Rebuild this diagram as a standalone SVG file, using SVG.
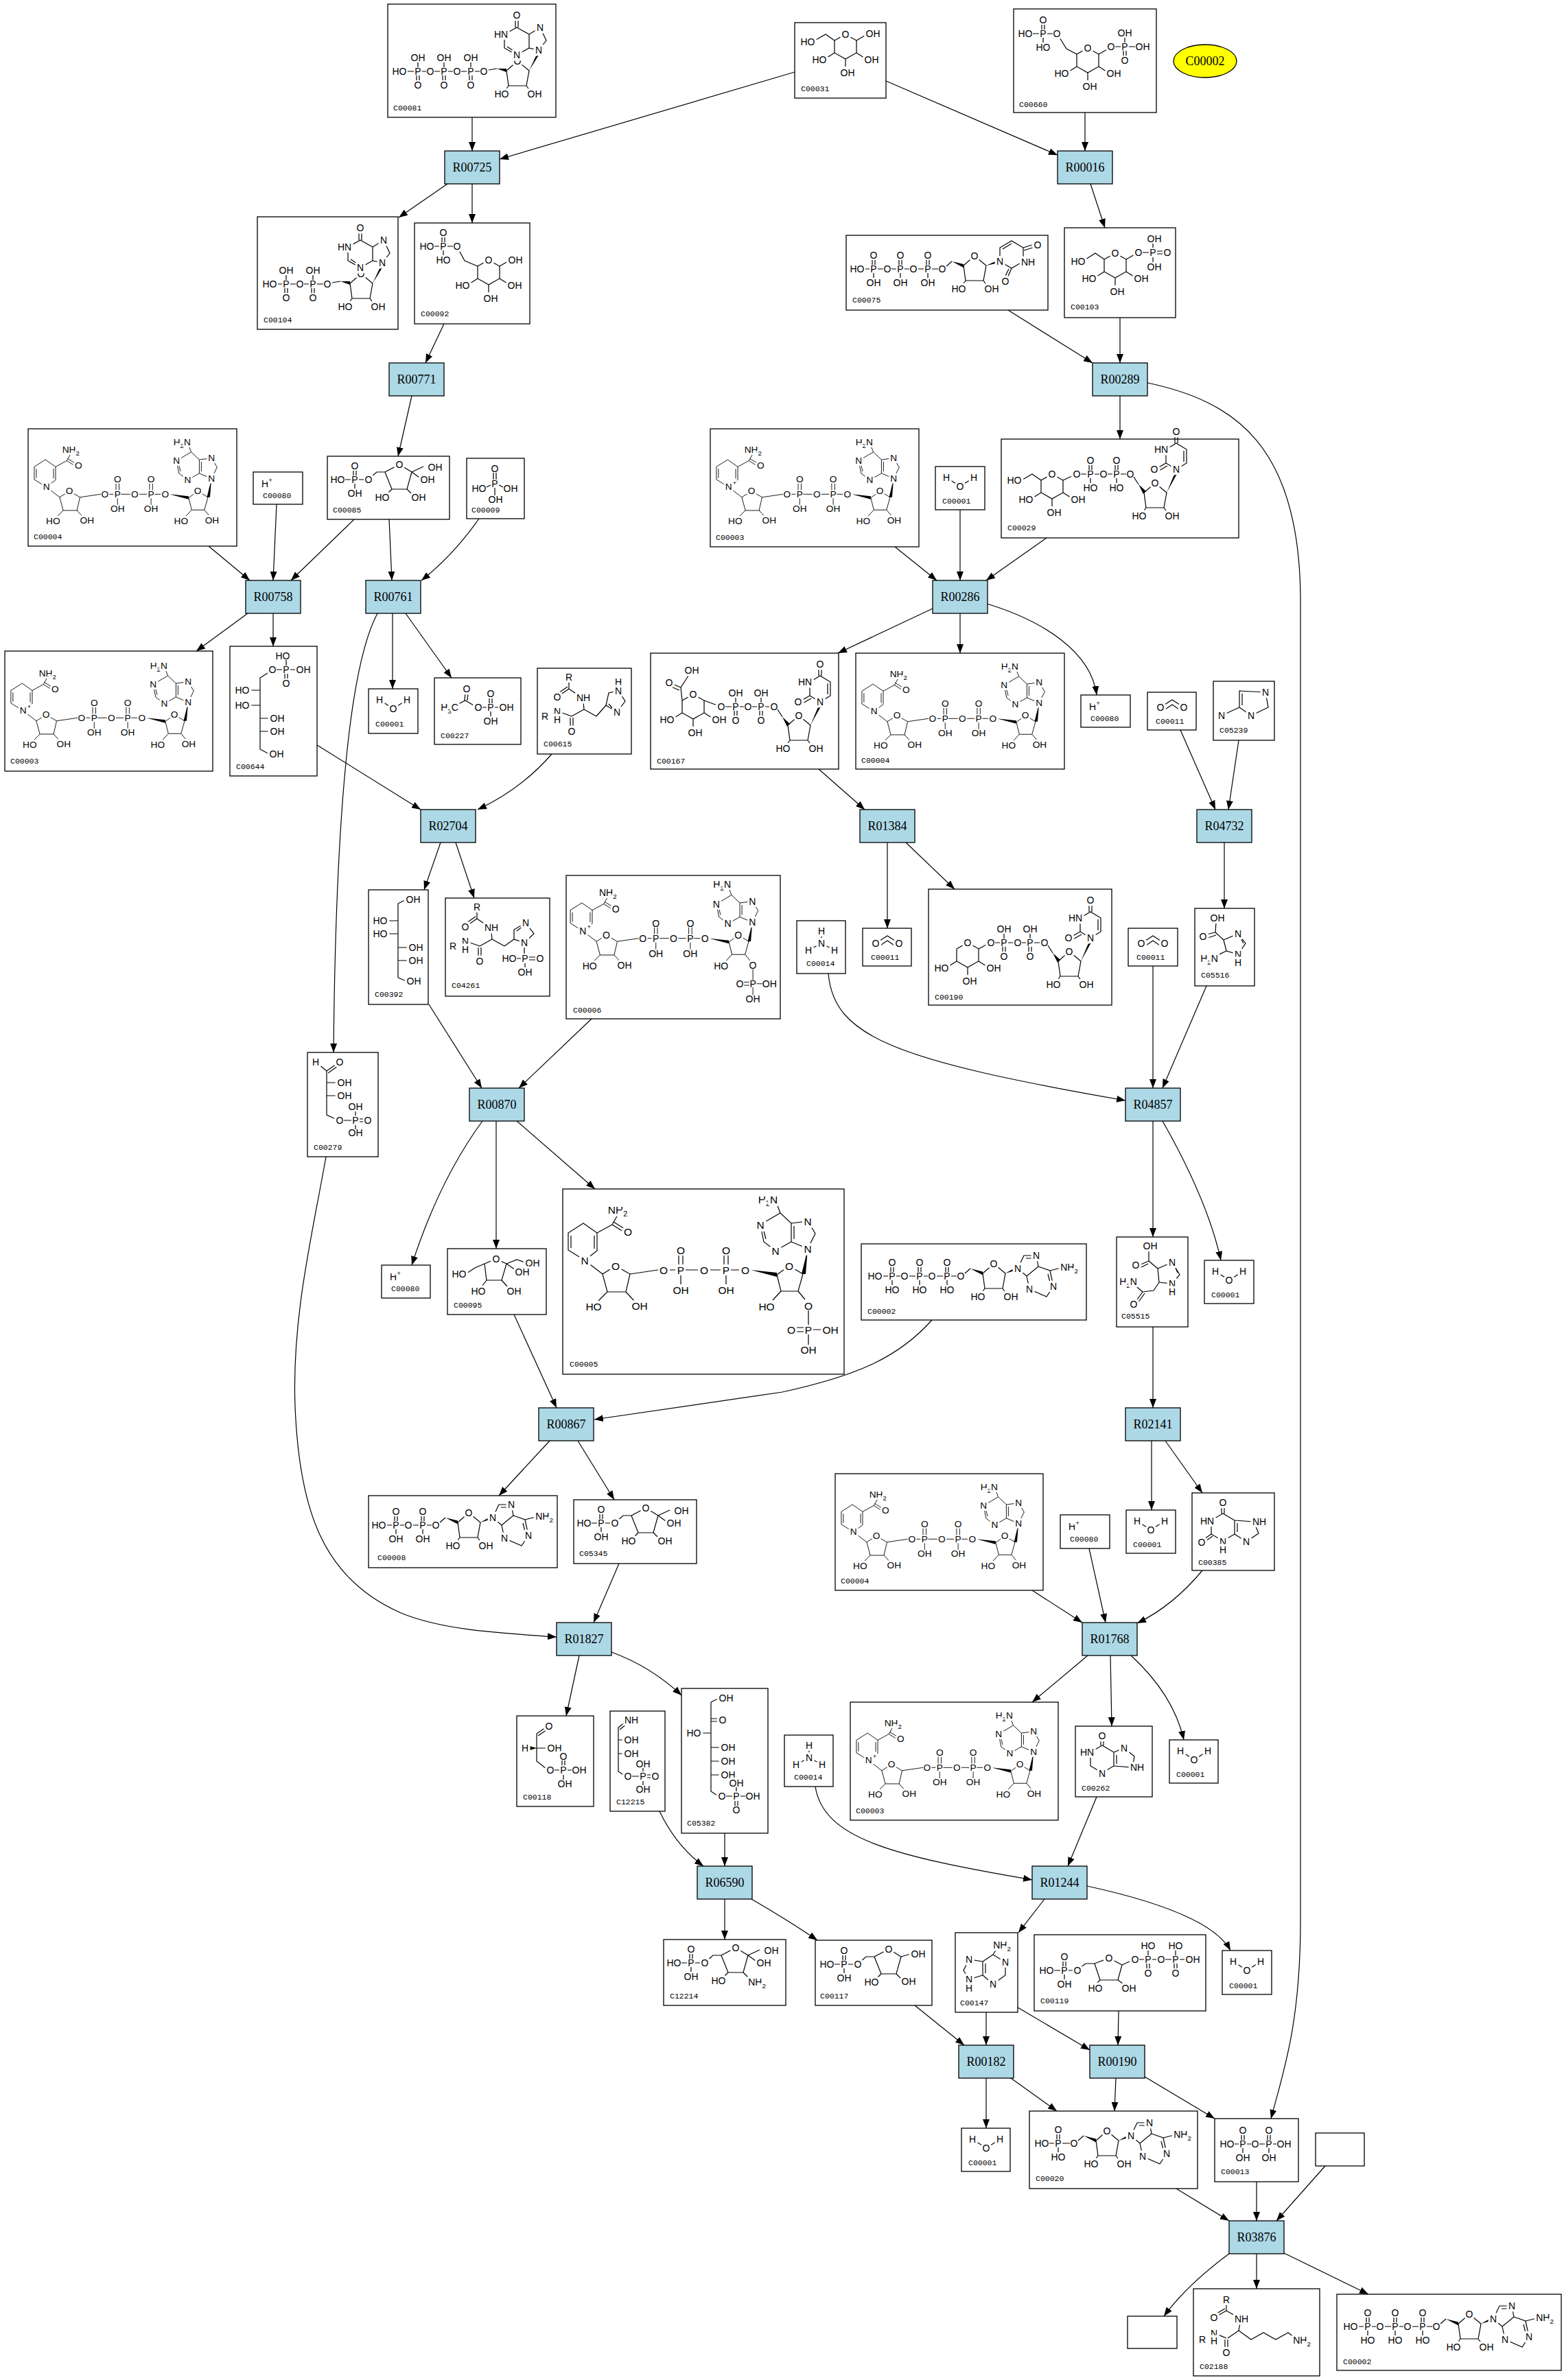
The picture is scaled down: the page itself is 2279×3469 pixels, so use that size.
<svg xmlns="http://www.w3.org/2000/svg" width="2279" height="3469" viewBox="0 0 2279 3469">
<style>
.box{fill:#fff;stroke:#000;stroke-width:1.3}
.rx{fill:#add8e6;stroke:#000;stroke-width:1.3}
.rl{font-family:"Liberation Serif","Times New Roman",serif;font-size:18px;text-anchor:middle;dominant-baseline:central;fill:#000}
.id{font-family:"Liberation Mono","DejaVu Sans Mono",monospace;font-size:11.5px;fill:#000}
.s{font-size:14px;stroke-width:7px}
.t{font-family:"Liberation Sans",Arial,sans-serif;text-anchor:middle;dominant-baseline:central;fill:#000;stroke:#fff;paint-order:stroke;stroke-linejoin:round}
.b{fill:none;stroke:#000;stroke-width:1.2}
.w{fill:#000;stroke:none}
.e{fill:none;stroke:#000;stroke-width:1.2;marker-end:url(#ah)}
.sb{font-size:70%;baseline-shift:sub}
.sp{font-size:70%;baseline-shift:super}
</style>
<defs>
<marker id="ah" markerUnits="userSpaceOnUse" markerWidth="14" markerHeight="10" refX="13" refY="5" orient="auto" viewBox="0 0 14 10"><path d="M0,0L13,5L0,10Z" fill="#000"/></marker>
<g id="pu"><text class="t">P</text><text class="t" y="-20">O</text><text class="t" y="20">OH</text><path class="b" d="M-2,-6V-13M2,-6V-13M0,6V13"/></g>
<g id="ph"><text class="t">P</text><text class="t" y="-20">O</text><text class="t" y="20">HO</text><path class="b" d="M-2,-6V-13M2,-6V-13M0,6V13"/></g>
<g id="pd"><text class="t">P</text><text class="t" y="-20">OH</text><text class="t" y="20">O</text><path class="b" d="M0,-6V-13M-2,6V13M2,6V13"/></g>
<g id="pdh"><text class="t">P</text><text class="t" y="-20">HO</text><text class="t" y="20">O</text><path class="b" d="M0,-6V-13M-2,6V13M2,6V13"/></g>
<g id="rib"><path class="b" d="M0,-19L17,-5L13,17L-13,17L-16,-5Z M-13,17L-18,24 M13,17L18,24"/><text class="t" y="-19">O</text><text class="t" x="-23" y="29">HO</text><text class="t" x="25" y="29">OH</text></g>
<g id="nuc"><path class="b" d="M6,-4L14,-11"/><path class="w" d="M14,-11L32,-1.5L32,-6.5Z"/><use href="#rib" x="48" y="1"/><path class="w" d="M65,-4L82,-9L81,-13Z"/><path class="b" d="M83,-11L92,-30L110,-30L113,-14L96,0Z M113,-14L130,-8L135,15L125,30L100,19L96,0 M130,-8L146,-12 M95,-26L107,-26 M127,-3L131,13"/><text class="t" x="83" y="-11">N</text><text class="t" x="110" y="-30">N</text><text class="t" x="135" y="15">N</text><text class="t" x="100" y="19">N</text><text class="t" x="158" y="-13">NH<tspan class="sb">2</tspan></text></g>
<g id="inuc"><path class="b" d="M7,-2L19,-4"/><path class="w" d="M19,-4L33,1L33,-4Z"/><use href="#rib" x="49" y="4"/><path class="w" d="M66,-1L79,-29L82,-27Z"/><path class="b" d="M80,-31L91,-45L82,-64L66,-54L66,-34Z M66,-54L48,-64L30,-54L30,-34L48,-24L66,-34 M46,-64V-76M50,-64V-76 M34,-36L46,-28"/><text class="t" x="80" y="-31">N</text><text class="t" x="82" y="-64">N</text><text class="t" x="25" y="-54">HN</text><text class="t" x="48" y="-24">N</text><text class="t" x="48" y="-82">O</text></g>
<g id="unuc"><path class="b" d="M6,-4L14,-11"/><path class="w" d="M14,-11L31,-2L31,-7Z"/><use href="#rib" x="47" y="0"/><path class="w" d="M64,-5L83,-9L82,-13Z"/><path class="b" d="M84,-11L84,-31L101,-41L118,-31L118,-11L101,-1Z M88,-29L101,-37 M118,-31L134,-36 M119,-27L135,-32 M101,-1L95,13 M97,0L91,12"/><text class="t" x="84" y="-11">N</text><text class="t" x="139" y="-35">O</text><text class="t" x="125" y="-10">NH</text><text class="t" x="92" y="18">O</text></g>
<g id="unuc2"><path class="b" d="M5,4L12,15"/><path class="w" d="M12,15L19,29L23,25Z"/><use href="#rib" x="36" y="32"/><path class="w" d="M53,27L66,-4L69,-2Z"/><path class="b" d="M67,-7L52,-16L52,-36L67,-45L82,-36L82,-16Z M52,-16L38,-8 M54,-12L40,-4 M65,-45V-56 M69,-45V-56 M78,-34V-18"/><text class="t" x="67" y="-7">N</text><text class="t" x="35" y="-7">O</text><text class="t" x="45" y="-36">HN</text><text class="t" x="67" y="-62">O</text></g>
<g id="pyr"><path class="b" d="M-16,-9L0,-18L16,-9L16,9L0,18L-16,9Z M-16,9L-27,16 M0,18V29 M16,9L27,16"/><text class="t" y="-18">O</text><text class="t" x="-38" y="19">HO</text><text class="t" x="3" y="38">OH</text><text class="t" x="38" y="19">OH</text></g>
<g id="fcore"><path class="b" d="M64,30L72,23H84 M84,23L105,12L123,23L116,48L94,48Z M94,48L86,56"/><text class="t" x="15" y="34">HO</text><text class="t" x="60" y="34">O</text><text class="t" x="105" y="12">O</text><text class="t" x="80" y="60">HO</text><use href="#pu" x="40" y="34"/><path class="b" d="M26,34H34M46,34H53"/></g>
<g id="pep"><path class="b" d="M46,19V30 M46,30L33,39 M44,27L31,36 M46,30L59,39 M67,49L68,60 M68,60L50,70 M50,70L36,65 M48,72V85 M52,72V85 M68,60L86,70"/><text class="t" x="46" y="13">R</text><text class="t" x="29" y="42">O</text><text class="t" x="67" y="43">NH</text><text class="t" x="11" y="70">R</text><text class="t" x="29" y="63">N</text><text class="t" x="29" y="75">H</text><text class="t" x="50" y="92">O</text></g>
<g id="nad"><path class="b" d="M30,50L8,64L8,89L32,104L50,90L50,64Z M12,68V86 M46,68V87 M50,64L72,52 M72,52L80,38 M72,52L88,62 M74,48L90,58 M32,104L58,124 M58,124L77,112L98,124L92,150L65,150Z M65,150L52,163 M92,150L104,163 M312,125L330,112L350,124L343,149L318,149Z M318,149L306,162 M343,149L353,161 M317,35L288,52L293,77L310,90L333,77L333,50Z M333,50L357,47L368,65L357,87L333,77 M317,35L312,22 M337,54V73 M292,57L296,73"/><path class="w" d="M274,118L312,122L312,128Z M357,87L348,124L354,124Z"/><text class="t" x="80" y="30">NH<tspan class="sb">2</tspan></text><text class="t" x="95" y="62">O</text><text class="t" x="32" y="104">N</text><text class="t" x="77" y="112">O</text><text class="t" x="45" y="171">HO</text><text class="t" x="112" y="170">OH</text><text class="t" x="147" y="118">O</text><text class="t" x="172" y="118">P</text><text class="t" x="206" y="118">O</text><text class="t" x="238" y="118">P</text><text class="t" x="266" y="118">O</text><text class="t" x="172" y="89">O</text><text class="t" x="238" y="89">O</text><text class="t" x="172" y="147">OH</text><text class="t" x="238" y="147">OH</text><text class="t" x="330" y="112">O</text><text class="t" x="297" y="171">HO</text><text class="t" x="299" y="15">H<tspan class="sb">2</tspan>N</text><text class="t" x="288" y="52">N</text><text class="t" x="310" y="90">N</text><text class="t" x="357" y="47">N</text><text class="t" x="357" y="87">N</text><path class="b" d="M98,124L139,118 M156,118H164 M179,118H197 M215,118H230 M245,118H257 M169,97V110M175,97V110M172,126V139 M235,97V110M241,97V110M238,126V139"/></g>
<g id="oh2"><text class="t" x="358" y="170">OH</text></g>
<g id="p2"><text class="t" x="358" y="170">O</text><text class="t" x="333" y="205">O</text><text class="t" x="358" y="205">P</text><text class="t" x="390" y="205">OH</text><text class="t" x="358" y="234">OH</text><path class="b" d="M358,177V198M341,202H351M341,208H351M365,205H376M358,212V227"/></g>
<g id="h2o"><path class="b" d="M16,16L36,29L56,16"/><text class="t" x="16" y="16">H</text><text class="t" x="36" y="29">O</text><text class="t" x="56" y="16">H</text></g>
<g id="hp"><text class="t" x="20" y="17">H<tspan class="sp">+</tspan></text></g>
<g id="co2"><path class="b" d="M19,22L36,11L53,22 M23,27L36,18L49,27"/><text class="t" x="19" y="22">O</text><text class="t" x="53" y="22">O</text></g>
<g id="nh3"><path class="b" d="M36,15V33 M36,33L17,43 M36,33L55,43"/><text class="t" x="36" y="15">H</text><text class="t" x="36" y="33">N</text><text class="t" x="17" y="43">H</text><text class="t" x="55" y="43">H</text></g>
</defs>
<rect width="2279" height="3469" fill="#fff"/>
<g id="connectors">
<path class="e" d="M688,171L688,220"/>
<path class="e" d="M1158,105L728,232"/>
<path class="e" d="M1291,118L1541,226"/>
<path class="e" d="M1581,164L1581,220"/>
<path class="e" d="M652,268L581,317"/>
<path class="e" d="M688,268L688,325"/>
<path class="e" d="M647,472L620,529"/>
<path class="e" d="M1589,268L1610,332"/>
<path class="e" d="M1469,452L1592,529"/>
<path class="e" d="M1632,463L1632,529"/>
<path class="e" d="M1632,577L1632,640"/>
<path class="e" d="M1672,558C1800,585 1893,650 1895,870L1895,2800C1895,2950 1870,3020 1852,3088"/>
<path class="e" d="M600,577L580,665"/>
<path class="e" d="M304,796L364,846"/>
<path class="e" d="M403,735L398,846"/>
<path class="e" d="M516,757L424,846"/>
<path class="e" d="M567,757L571,846"/>
<path class="e" d="M698,756Q660,810 614,846"/>
<path class="e" d="M1304,797L1365,846"/>
<path class="e" d="M1399,743L1399,846"/>
<path class="e" d="M1525,784L1437,846"/>
<path class="e" d="M361,894L286,949"/>
<path class="e" d="M398,894L398,942"/>
<path class="e" d="M572,894L572,1004"/>
<path class="e" d="M591,894L658,988"/>
<path class="e" d="M550,894C520,950 490,1100 486,1534"/>
<path class="e" d="M462,1086L613,1180"/>
<path class="e" d="M804,1099Q760,1150 696,1180"/>
<path class="e" d="M1359,887L1221,952"/>
<path class="e" d="M1399,894L1399,952"/>
<path class="e" d="M1438,880C1520,905 1590,950 1598,1013"/>
<path class="e" d="M1193,1121L1260,1180"/>
<path class="e" d="M1720,1064L1771,1180"/>
<path class="e" d="M1805,1079L1790,1180"/>
<path class="e" d="M642,1228L618,1297"/>
<path class="e" d="M664,1228L691,1309"/>
<path class="e" d="M625,1464L702,1586"/>
<path class="e" d="M862,1485L756,1586"/>
<path class="e" d="M1293,1228L1293,1353"/>
<path class="e" d="M1320,1228L1391,1296"/>
<path class="e" d="M1784,1228L1784,1324"/>
<path class="e" d="M1207,1419C1215,1510 1300,1545 1640,1604"/>
<path class="e" d="M1680,1408L1680,1586"/>
<path class="e" d="M1758,1437L1694,1586"/>
<path class="e" d="M703,1634Q640,1720 600,1844"/>
<path class="e" d="M723,1634L723,1820"/>
<path class="e" d="M753,1634L867,1733"/>
<path class="e" d="M1680,1634L1680,1803"/>
<path class="e" d="M1694,1634Q1760,1750 1779,1837"/>
<path class="e" d="M749,1916L811,2052"/>
<path class="e" d="M1358,1924C1310,1978 1250,2005 1140,2029L866,2069"/>
<path class="e" d="M1680,1934L1680,2052"/>
<path class="e" d="M801,2100L727,2180"/>
<path class="e" d="M842,2100L895,2186"/>
<path class="e" d="M902,2279L865,2365"/>
<path class="e" d="M475,1686C455,1800 425,1920 430,2050C436,2200 470,2300 582,2350C640,2375 720,2380 811,2386"/>
<path class="e" d="M1678,2100L1678,2201"/>
<path class="e" d="M1698,2100L1752,2176"/>
<path class="e" d="M1504,2318L1577,2365"/>
<path class="e" d="M1587,2257L1611,2365"/>
<path class="e" d="M1752,2289Q1710,2340 1657,2366"/>
<path class="e" d="M1585,2413L1504,2481"/>
<path class="e" d="M1618,2413L1620,2516"/>
<path class="e" d="M1648,2413Q1710,2470 1725,2536"/>
<path class="e" d="M844,2413L825,2501"/>
<path class="e" d="M891,2408Q950,2430 993,2471"/>
<path class="e" d="M961,2640Q985,2690 1025,2720"/>
<path class="e" d="M1056,2672L1056,2720"/>
<path class="e" d="M1056,2768L1056,2827"/>
<path class="e" d="M1095,2768Q1150,2800 1191,2828"/>
<path class="e" d="M1188,2604C1200,2680 1300,2705 1504,2740"/>
<path class="e" d="M1598,2619L1556,2720"/>
<path class="e" d="M1522,2768L1484,2817"/>
<path class="e" d="M1584,2749C1680,2770 1770,2800 1793,2843"/>
<path class="e" d="M1333,2923L1405,2981"/>
<path class="e" d="M1437,2933L1437,2981"/>
<path class="e" d="M1483,2926L1588,2988"/>
<path class="e" d="M1630,2931L1629,2981"/>
<path class="e" d="M1437,3029L1437,3102"/>
<path class="e" d="M1473,3029L1540,3077"/>
<path class="e" d="M1626,3029L1624,3077"/>
<path class="e" d="M1668,3027L1770,3088"/>
<path class="e" d="M1714,3190L1791,3237"/>
<path class="e" d="M1831,3180L1831,3237"/>
<path class="e" d="M1931,3157L1860,3237"/>
<path class="e" d="M1791,3285Q1730,3330 1696,3376"/>
<path class="e" d="M1831,3285L1831,3336"/>
<path class="e" d="M1871,3284L1994,3344"/>
</g>
<g id="reactions">
<g id="R00725"><rect class="rx" x="648" y="220" width="80" height="48"/><text class="rl" x="688" y="244">R00725</text></g>
<g id="R00016"><rect class="rx" x="1541" y="220" width="80" height="48"/><text class="rl" x="1581" y="244">R00016</text></g>
<g id="R00771"><rect class="rx" x="567" y="529" width="80" height="48"/><text class="rl" x="607" y="553">R00771</text></g>
<g id="R00289"><rect class="rx" x="1592" y="529" width="80" height="48"/><text class="rl" x="1632" y="553">R00289</text></g>
<g id="R00758"><rect class="rx" x="358" y="846" width="80" height="48"/><text class="rl" x="398" y="870">R00758</text></g>
<g id="R00761"><rect class="rx" x="533" y="846" width="80" height="48"/><text class="rl" x="573" y="870">R00761</text></g>
<g id="R00286"><rect class="rx" x="1359" y="846" width="80" height="48"/><text class="rl" x="1399" y="870">R00286</text></g>
<g id="R02704"><rect class="rx" x="613" y="1180" width="80" height="48"/><text class="rl" x="653" y="1204">R02704</text></g>
<g id="R01384"><rect class="rx" x="1253" y="1180" width="80" height="48"/><text class="rl" x="1293" y="1204">R01384</text></g>
<g id="R04732"><rect class="rx" x="1744" y="1180" width="80" height="48"/><text class="rl" x="1784" y="1204">R04732</text></g>
<g id="R00870"><rect class="rx" x="684" y="1586" width="80" height="48"/><text class="rl" x="724" y="1610">R00870</text></g>
<g id="R04857"><rect class="rx" x="1640" y="1586" width="80" height="48"/><text class="rl" x="1680" y="1610">R04857</text></g>
<g id="R00867"><rect class="rx" x="785" y="2052" width="80" height="48"/><text class="rl" x="825" y="2076">R00867</text></g>
<g id="R02141"><rect class="rx" x="1640" y="2052" width="80" height="48"/><text class="rl" x="1680" y="2076">R02141</text></g>
<g id="R01827"><rect class="rx" x="811" y="2365" width="80" height="48"/><text class="rl" x="851" y="2389">R01827</text></g>
<g id="R01768"><rect class="rx" x="1577" y="2365" width="80" height="48"/><text class="rl" x="1617" y="2389">R01768</text></g>
<g id="R06590"><rect class="rx" x="1016" y="2720" width="80" height="48"/><text class="rl" x="1056" y="2744">R06590</text></g>
<g id="R01244"><rect class="rx" x="1504" y="2720" width="80" height="48"/><text class="rl" x="1544" y="2744">R01244</text></g>
<g id="R00182"><rect class="rx" x="1397" y="2981" width="80" height="48"/><text class="rl" x="1437" y="3005">R00182</text></g>
<g id="R00190"><rect class="rx" x="1588" y="2981" width="80" height="48"/><text class="rl" x="1628" y="3005">R00190</text></g>
<g id="R03876"><rect class="rx" x="1791" y="3237" width="80" height="48"/><text class="rl" x="1831" y="3261">R03876</text></g>
</g>
<g id="compounds">
<g id="C00002"><ellipse cx="1756" cy="89" rx="46" ry="24" fill="#ffff00" stroke="#000" stroke-width="1.3"/><text class="rl" x="1756" y="89">C00002</text></g>

<g id="C00081" class="s" transform="translate(565,6)"><rect class="box" width="245" height="165"/><text class="t" x="17" y="98">HO</text><text class="t" x="62" y="98">O</text><text class="t" x="101" y="98">O</text><text class="t" x="140" y="98">O</text><use href="#pd" x="44" y="98"/><use href="#pd" x="82" y="98"/><use href="#pd" x="121" y="98"/><use href="#inuc" x="140" y="98"/><path class="b" d="M29,98H38M50,98H56M68,98H76M88,98H95M107,98H115M127,98H134"/><text class="id" x="8" y="155">C00081</text></g>

<g id="C00031" class="s" transform="translate(1158,33)"><rect class="box" width="133" height="110"/><path class="b" d="M90,26L102,19 M58,26L45,17L31,25"/><use href="#pyr" x="74" y="35"/><text class="t" x="114" y="16">OH</text><text class="t" x="19" y="28">HO</text><text class="id" x="9" y="100">C00031</text></g>

<g id="C00660" class="s" transform="translate(1477,13)"><rect class="box" width="208" height="151"/><path class="b" d="M67,42L77,58L92,66 M124,66L138,58"/><use href="#pyr" x="108" y="75"/><text class="t" x="17" y="36">HO</text><text class="t" x="63" y="36">O</text><text class="t" x="142" y="55">O</text><text class="t" x="188" y="55">OH</text><use href="#ph" x="43" y="36"/><use href="#pd" x="162" y="55"/><path class="b" d="M28,36H37M49,36H57M148,55H156M168,55H177"/><text class="id" x="8" y="143">C00660</text></g>

<g id="C00104" class="s" transform="translate(375,316)"><rect class="box" width="205" height="164"/><text class="t" x="18" y="98">HO</text><text class="t" x="62" y="98">O</text><text class="t" x="102" y="98">O</text><use href="#pd" x="42" y="98"/><use href="#pd" x="81" y="98"/><use href="#inuc" x="102" y="98"/><path class="b" d="M30,98H36M48,98H56M68,98H75M87,98H96"/><text class="id" x="9" y="154">C00104</text></g>

<g id="C00092" class="s" transform="translate(604,325)"><rect class="box" width="168" height="147"/><path class="b" d="M65,40L73,55L92,63 M124,63L136,56"/><use href="#pyr" x="108" y="72"/><text class="t" x="18" y="34">HO</text><text class="t" x="62" y="34">O</text><text class="t" x="147" y="54">OH</text><use href="#ph" x="42" y="34"/><path class="b" d="M29,34H36M48,34H56"/><text class="id" x="9" y="136">C00092</text></g>

<g id="C00075" class="s" transform="translate(1233,343)"><rect class="box" width="294" height="109"/><text class="t" x="16" y="49">HO</text><text class="t" x="60" y="49">O</text><text class="t" x="98" y="49">O</text><text class="t" x="140" y="49">O</text><use href="#pu" x="40" y="49"/><use href="#pu" x="79" y="49"/><use href="#pu" x="119" y="49"/><use href="#unuc" x="140" y="49"/><path class="b" d="M28,49H34M46,49H54M66,49H73M85,49H92M105,49H113M125,49H134"/><text class="id" x="9" y="98">C00075</text></g>

<g id="C00103" class="s" transform="translate(1551,332)"><rect class="box" width="162" height="131"/><path class="b" d="M58,46L45,37L31,46 M90,46L104,38"/><use href="#pyr" x="74" y="55"/><text class="t" x="20" y="49">HO</text><text class="t" x="108" y="36">O</text><text class="t" x="129" y="36">P</text><text class="t" x="150" y="36">O</text><text class="t" x="131" y="16">OH</text><text class="t" x="131" y="57">OH</text><path class="b" d="M114,36H123M135,34H143M135,38H143M129,29V23M129,43V50"/><text class="id" x="9" y="119">C00103</text></g>

<g id="C00029" class="s" transform="translate(1459,640)"><rect class="box" width="346" height="144"/><path class="b" d="M58,60L45,51L31,59 M90,60L105,53"/><use href="#pyr" x="74" y="69"/><text class="t" x="19" y="60">HO</text><text class="t" x="110" y="51">O</text><text class="t" x="149" y="51">O</text><text class="t" x="188" y="51">O</text><use href="#ph" x="130" y="51"/><use href="#ph" x="168" y="51"/><use href="#unuc2" x="188" y="51"/><path class="b" d="M116,51H124M136,51H143M155,51H162M174,51H182"/><text class="id" x="9" y="133">C00029</text></g>

<g id="C00004_1" class="s" transform="translate(41,625)"><rect class="box" width="304" height="171"/><g transform="translate(3,8) scale(.74)" style="font-size:18.5px;stroke-width:8px"><use href="#nad"/><use href="#oh2"/></g><text class="id" x="8" y="161">C00004</text></g>

<g id="C00080_1" class="s" transform="translate(369,688)"><rect class="box" width="72" height="47"/><use href="#hp"/><text class="id" x="14" y="38">C00080</text></g>

<g id="C00085" class="s" transform="translate(477,665)"><rect class="box" width="178" height="92"/><path class="b" d="M123,23L140,15 M123,23L134,31 M116,48L124,56"/><use href="#fcore"/><text class="t" x="157" y="16">OH</text><text class="t" x="146" y="34">OH</text><text class="t" x="133" y="60">OH</text><text class="id" x="8" y="82">C00085</text></g>

<g id="C00009" class="s" transform="translate(680,668)"><rect class="box" width="84" height="88"/><text class="t" x="41" y="15">O</text><text class="t" x="41" y="37">P</text><text class="t" x="18" y="44">HO</text><text class="t" x="64" y="44">OH</text><text class="t" x="42" y="60">OH</text><path class="b" d="M39,21V31M43,21V31M35,39L29,42M47,39L53,42M41,43V54"/><text class="id" x="7" y="79">C00009</text></g>

<g id="C00003_1" class="s" transform="translate(1035,625)"><rect class="box" width="304" height="172"/><g transform="translate(3,8) scale(.74)" style="font-size:18.5px;stroke-width:8px"><use href="#nad"/><use href="#oh2"/><text class="t" x="44" y="95" style="font-size:13px">+</text></g><text class="id" x="8" y="162">C00003</text></g>

<g id="C00001_1" class="s" transform="translate(1363,680)"><rect class="box" width="72" height="63"/><use href="#h2o"/><text class="id" x="10" y="54">C00001</text></g>

<g id="C00003_2" class="s" transform="translate(7,949)"><rect class="box" width="303" height="175"/><g transform="translate(3,10) scale(.74)" style="font-size:18.5px;stroke-width:8px"><use href="#nad"/><use href="#oh2"/><text class="t" x="44" y="95" style="font-size:13px">+</text></g><text class="id" x="8" y="164">C00003</text></g>

<g id="C00644" class="s" transform="translate(335,942)"><rect class="box" width="127" height="189"/><path class="b" d="M58,37L44,46V150L57,157 M44,64H28 M44,86H28 M44,105H60 M44,124H60"/><text class="t" x="77" y="14">HO</text><text class="t" x="62" y="34">O</text><text class="t" x="82" y="34">P</text><text class="t" x="107" y="34">OH</text><text class="t" x="82" y="54">O</text><text class="t" x="18" y="64">HO</text><text class="t" x="18" y="86">HO</text><text class="t" x="69" y="105">OH</text><text class="t" x="69" y="124">OH</text><text class="t" x="68" y="157">OH</text><path class="b" d="M68,34H76M88,34H95M82,28V20M80,40V47M84,40V47"/><text class="id" x="9" y="179">C00644</text></g>

<g id="C00001_2" class="s" transform="translate(537,1004)"><rect class="box" width="72" height="65"/><use href="#h2o"/><text class="id" x="10" y="55">C00001</text></g>

<g id="C00227" class="s" transform="translate(633,988)"><rect class="box" width="126" height="97"/><path class="b" d="M31,40L45,33L57,40 M44,33L45,22 M48,33L49,22"/><text class="t" x="22" y="43">H<tspan class="sb">3</tspan>C</text><text class="t" x="47" y="16">O</text><text class="t" x="64" y="43">O</text><text class="t" x="105" y="43">OH</text><use href="#pu" x="82" y="43"/><path class="b" d="M70,43H76M88,43H93"/><text class="id" x="9" y="88">C00227</text></g>

<g id="C00615" class="s" transform="translate(783,974)"><rect class="box" width="137" height="125"/><use href="#pep"/><path class="b" d="M86,70L100,54 M100,54L104,36L118,33L128,48L116,64Z M118,33V26 M104,52L113,62"/><text class="t" x="118" y="20">H</text><text class="t" x="118" y="33">N</text><text class="t" x="116" y="64">N</text><text class="id" x="9" y="114">C00615</text></g>

<g id="C00167" class="s" transform="translate(948,952)"><rect class="box" width="274" height="169"/><path class="b" d="M46,69L44,50 M44,50L32,45 M42,54L30,49 M44,50L55,33 M78,69L97,76"/><use href="#pyr" x="62" y="78"/><text class="t" x="27" y="43">O</text><text class="t" x="60" y="25">OH</text><text class="t" x="103" y="78">O</text><text class="t" x="142" y="78">O</text><text class="t" x="180" y="78">O</text><use href="#pd" x="124" y="78"/><use href="#pd" x="161" y="78"/><use href="#unuc2" x="180" y="78"/><path class="b" d="M109,78H118M130,78H136M148,78H155M167,78H173"/><text class="id" x="9" y="161">C00167</text></g>

<g id="C00004_2" class="s" transform="translate(1247,952)"><rect class="box" width="304" height="169"/><g transform="translate(3,8) scale(.74)" style="font-size:18.5px;stroke-width:8px"><use href="#nad"/><use href="#oh2"/></g><text class="id" x="8" y="160">C00004</text></g>

<g id="C00080_2" class="s" transform="translate(1575,1013)"><rect class="box" width="72" height="47"/><use href="#hp"/><text class="id" x="14" y="38">C00080</text></g>

<g id="C00011_1" class="s" transform="translate(1672,1009)"><rect class="box" width="71" height="55"/><use href="#co2"/><text class="id" x="12" y="46">C00011</text></g>

<g id="C05239" class="s" transform="translate(1768,993)"><rect class="box" width="89" height="86"/><path class="b" d="M38,14L76,16L80,38L55,50L38,38Z M38,38L12,50 M42,18V35"/><text class="t" x="76" y="16">N</text><text class="t" x="55" y="50">N</text><text class="t" x="12" y="50">N</text><text class="id" x="9" y="75">C05239</text></g>

<g id="C00392" class="s" transform="translate(537,1297)"><rect class="box" width="87" height="167"/><path class="b" d="M43,20V128 M43,20L55,14 M43,45H28 M43,64H28 M43,84H58 M43,103H58 M43,128L55,133"/><text class="t" x="65" y="14">OH</text><text class="t" x="17" y="45">HO</text><text class="t" x="17" y="64">HO</text><text class="t" x="69" y="84">OH</text><text class="t" x="69" y="103">OH</text><text class="t" x="66" y="133">OH</text><text class="id" x="9" y="156">C00392</text></g>

<g id="C04261" class="s" transform="translate(649,1309)"><rect class="box" width="152" height="143"/><use href="#pep"/><path class="b" d="M86,70L100,60 M100,60L100,46L117,36L129,52L115,65Z M104,48L114,40"/><text class="t" x="117" y="36">N</text><text class="t" x="115" y="65">N</text><text class="t" x="93" y="88">HO</text><text class="t" x="116" y="88">P</text><text class="t" x="138" y="88">O</text><text class="t" x="116" y="108">OH</text><path class="b" d="M115,72V81M104,88H110M122,86H131M122,90H131M116,95V101"/><text class="id" x="9" y="131">C04261</text></g>

<g id="C00006" class="s" transform="translate(825,1276)"><rect class="box" width="312" height="209"/><g transform="translate(0,2) scale(.76)" style="font-size:18.5px;stroke-width:8px"><use href="#nad"/><use href="#p2"/><text class="t" x="44" y="95" style="font-size:13px">+</text></g><text class="id" x="10" y="200">C00006</text></g>

<g id="C00014_1" class="s" transform="translate(1161,1342)"><rect class="box" width="71" height="77"/><use href="#nh3"/><text class="id" x="14" y="66">C00014</text></g>

<g id="C00011_2" class="s" transform="translate(1257,1353)"><rect class="box" width="71" height="55"/><use href="#co2"/><text class="id" x="12" y="46">C00011</text></g>

<g id="C00190" class="s" transform="translate(1353,1296)"><rect class="box" width="267" height="169"/><path class="b" d="M73,87L86,80"/><use href="#pyr" x="57" y="96"/><text class="t" x="91" y="78">O</text><text class="t" x="130" y="78">O</text><text class="t" x="169" y="78">O</text><use href="#pd" x="110" y="78"/><use href="#pd" x="148" y="78"/><use href="#unuc2" x="169" y="78"/><path class="b" d="M97,78H104M116,78H123M136,78H142M154,78H162"/><text class="id" x="9" y="161">C00190</text></g>

<g id="C00011_3" class="s" transform="translate(1644,1353)"><rect class="box" width="72" height="55"/><use href="#co2"/><text class="id" x="12" y="46">C00011</text></g>

<g id="C05516" class="s" transform="translate(1741,1324)"><rect class="box" width="87" height="113"/><path class="b" d="M30,35L31,20 M30,35L17,38 M31,39L19,43 M30,35L42,46 M42,46L63,37L74,51L63,67L46,62Z M46,62L30,70 M66,42L71,51"/><text class="t" x="33" y="14">OH</text><text class="t" x="12" y="41">O</text><text class="t" x="63" y="37">N</text><text class="t" x="63" y="67">N</text><text class="t" x="63" y="79">H</text><text class="t" x="21" y="73">H<tspan class="sb">2</tspan>N</text><text class="id" x="9" y="101">C05516</text></g>

<g id="C00279" class="s" transform="translate(448,1534)"><rect class="box" width="103" height="152"/><path class="b" d="M12,14L28,27 M28,27L42,17 M30,30L44,20 M28,27V91L41,97 M28,44H44 M28,63H44"/><text class="t" x="12" y="14">H</text><text class="t" x="47" y="14">O</text><text class="t" x="54" y="44">OH</text><text class="t" x="54" y="63">OH</text><text class="t" x="47" y="99">O</text><text class="t" x="70" y="99">P</text><text class="t" x="88" y="99">O</text><text class="t" x="70" y="79">OH</text><text class="t" x="70" y="117">OH</text><path class="b" d="M53,99H64M76,97H81M76,101H81M70,92V86M70,106V112"/><text class="id" x="9" y="142">C00279</text></g>

<g id="C00005" class="s" transform="translate(820,1733)"><rect class="box" width="410" height="270"/><g style="font-size:15.5px;stroke-width:8px"><use href="#nad"/><use href="#p2"/></g><text class="id" x="10" y="259">C00005</text></g>

<g id="C00080_3" class="s" transform="translate(556,1844)"><rect class="box" width="71" height="48"/><use href="#hp"/><text class="id" x="14" y="38">C00080</text></g>

<g id="C00095" class="s" transform="translate(652,1820)"><rect class="box" width="144" height="96"/><path class="b" d="M54,22L71,15L86,22L79,46L57,46Z M86,22L101,16L113,20 M86,22L99,31 M54,22L40,28L28,36 M57,46L50,55 M79,46L87,55"/><text class="t" x="71" y="15">O</text><text class="t" x="124" y="21">OH</text><text class="t" x="109" y="34">OH</text><text class="t" x="17" y="37">HO</text><text class="t" x="45" y="62">HO</text><text class="t" x="97" y="62">OH</text><text class="id" x="9" y="86">C00095</text></g>

<g id="C00002_1" class="s" transform="translate(1255,1813)"><rect class="box" width="328" height="111"/><text class="t" x="20" y="47">HO</text><text class="t" x="63" y="47">O</text><text class="t" x="103" y="47">O</text><text class="t" x="145" y="47">O</text><use href="#ph" x="45" y="47"/><use href="#ph" x="85" y="47"/><use href="#ph" x="125" y="47"/><use href="#nuc" x="145" y="47"/><path class="b" d="M32,47H39M51,47H57M70,47H79M91,47H97M110,47H119M131,47H139"/><text class="id" x="9" y="102">C00002</text></g>

<g id="C05515" class="s" transform="translate(1627,1803)"><rect class="box" width="104" height="131"/><path class="b" d="M47,35V20 M47,35L33,41 M46,39L34,45 M47,35L60,46 M60,46L81,37L92,55L81,68L62,66Z M62,66L54,78L38,80 M38,80L24,68 M38,80L28,94 M41,82L31,96 M84,41L89,52"/><text class="t" x="49" y="13">OH</text><text class="t" x="28" y="41">O</text><text class="t" x="81" y="37">N</text><text class="t" x="81" y="68">N</text><text class="t" x="81" y="80">H</text><text class="t" x="17" y="65">H<tspan class="sb">2</tspan>N</text><text class="t" x="25" y="98">O</text><text class="id" x="7" y="119">C05515</text></g>

<g id="C00001_3" class="s" transform="translate(1755,1837)"><rect class="box" width="72" height="63"/><use href="#h2o"/><text class="id" x="10" y="54">C00001</text></g>

<g id="C00008" class="s" transform="translate(537,2180)"><rect class="box" width="275" height="105"/><text class="t" x="15" y="43">HO</text><text class="t" x="58" y="43">O</text><text class="t" x="98" y="43">O</text><use href="#pu" x="40" y="43"/><use href="#pu" x="79" y="43"/><use href="#nuc" x="98" y="43"/><path class="b" d="M27,43H34M46,43H52M65,43H73M85,43H92"/><text class="id" x="13" y="94">C00008</text></g>

<g id="C05345" class="s" transform="translate(836,2186)"><rect class="box" width="179" height="93"/><path class="b" d="M123,23L140,15 M123,23L134,31 M116,48L124,56"/><use href="#fcore"/><text class="t" x="157" y="16">OH</text><text class="t" x="146" y="34">OH</text><text class="t" x="133" y="60">OH</text><text class="id" x="8" y="82">C05345</text></g>

<g id="C00004_3" class="s" transform="translate(1217,2148)"><rect class="box" width="303" height="170"/><g transform="translate(3,8) scale(.74)" style="font-size:18.5px;stroke-width:8px"><use href="#nad"/><use href="#oh2"/></g><text class="id" x="8" y="160">C00004</text></g>

<g id="C00080_4" class="s" transform="translate(1545,2208)"><rect class="box" width="72" height="49"/><use href="#hp"/><text class="id" x="14" y="39">C00080</text></g>

<g id="C00001_4" class="s" transform="translate(1641,2201)"><rect class="box" width="72" height="63"/><use href="#h2o"/><text class="id" x="10" y="54">C00001</text></g>

<g id="C00385" class="s" transform="translate(1737,2176)"><rect class="box" width="120" height="113"/><path class="b" d="M45,30L28,40L28,60L45,70L62,60L62,40Z M43,30V20M47,30V20 M28,60L18,67 M30,63L20,70 M62,40L90,42L97,59L79,71L62,60 M66,44V57"/><text class="t" x="45" y="14">O</text><text class="t" x="22" y="41">HN</text><text class="t" x="14" y="72">O</text><text class="t" x="45" y="71">N</text><text class="t" x="45" y="83">H</text><text class="t" x="98" y="42">NH</text><text class="t" x="79" y="71">N</text><text class="id" x="9" y="105">C00385</text></g>

<g id="C00118" class="s" transform="translate(753,2501)"><rect class="box" width="112" height="132"/><path class="b" d="M29,26L42,17 M31,29L44,20 M29,26V66L43,77 M29,47H46"/><path class="w" d="M29,47L19,44L19,50Z"/><text class="t" x="47" y="15">O</text><text class="t" x="12" y="47">H</text><text class="t" x="55" y="47">OH</text><text class="t" x="49" y="79">O</text><text class="t" x="68" y="79">P</text><text class="t" x="91" y="79">OH</text><text class="t" x="68" y="59">O</text><text class="t" x="70" y="99">OH</text><path class="b" d="M55,79H62M74,79H80M66,72V65M70,72V65M68,86V93"/><text class="id" x="9" y="122">C00118</text></g>

<g id="C12215" class="s" transform="translate(889,2494)"><rect class="box" width="80" height="146"/><path class="b" d="M12,24L22,16 M14,27L24,19 M12,24V88L21,94 M12,42H22 M12,62H22"/><text class="t" x="31" y="13">NH</text><text class="t" x="31" y="42">OH</text><text class="t" x="31" y="62">OH</text><text class="t" x="26" y="95">O</text><text class="t" x="48" y="95">P</text><text class="t" x="66" y="95">O</text><text class="t" x="48" y="77">OH</text><text class="t" x="48" y="114">OH</text><path class="b" d="M32,95H42M54,93H59M54,97H59M48,88V83M48,102V108"/><text class="id" x="9" y="136">C12215</text></g>

<g id="C05382" class="s" transform="translate(993,2461)"><rect class="box" width="126" height="211"/><path class="b" d="M43,20L55,14 M43,20V150L52,156 M43,44H53 M43,48H53 M43,65H28 M43,86H58 M43,106H58 M43,126H58"/><text class="t" x="65" y="14">OH</text><text class="t" x="60" y="46">O</text><text class="t" x="18" y="65">HO</text><text class="t" x="68" y="86">OH</text><text class="t" x="68" y="106">OH</text><text class="t" x="68" y="126">OH</text><text class="t" x="59" y="157">O</text><text class="t" x="80" y="157">P</text><text class="t" x="104" y="157">OH</text><text class="t" x="80" y="138">OH</text><text class="t" x="80" y="177">O</text><path class="b" d="M65,157H74M86,157H93M80,150V144M78,164V171M82,164V171"/><text class="id" x="8" y="200">C05382</text></g>

<g id="C00003_3" class="s" transform="translate(1239,2481)"><rect class="box" width="303" height="172"/><g transform="translate(3,8) scale(.74)" style="font-size:18.5px;stroke-width:8px"><use href="#nad"/><use href="#oh2"/><text class="t" x="44" y="95" style="font-size:13px">+</text></g><text class="id" x="8" y="162">C00003</text></g>

<g id="C00014_2" class="s" transform="translate(1143,2529)"><rect class="box" width="71" height="75"/><use href="#nh3"/><text class="id" x="14" y="65">C00014</text></g>

<g id="C00262" class="s" transform="translate(1567,2516)"><rect class="box" width="112" height="103"/><path class="b" d="M39,28L22,38L22,58L39,68L56,58L56,38Z M37,28V20M41,28V20 M56,38L71,32L86,44L83,60L56,58 M60,42V55"/><text class="t" x="39" y="14">O</text><text class="t" x="17" y="38">HN</text><text class="t" x="39" y="69">N</text><text class="t" x="71" y="32">N</text><text class="t" x="90" y="60">NH</text><text class="id" x="9" y="94">C00262</text></g>

<g id="C00001_5" class="s" transform="translate(1704,2536)"><rect class="box" width="71" height="63"/><use href="#h2o"/><text class="id" x="10" y="54">C00001</text></g>

<g id="C12214" class="s" transform="translate(967,2827)"><rect class="box" width="178" height="96"/><path class="b" d="M123,23L140,15 M123,23L134,31 M116,48L124,56"/><use href="#fcore"/><text class="t" x="157" y="16">OH</text><text class="t" x="146" y="34">OH</text><text class="t" x="136" y="62">NH<tspan class="sb">2</tspan></text><text class="id" x="9" y="86">C12214</text></g>

<g id="C00117" class="s" transform="translate(1188,2828)"><rect class="box" width="170" height="95"/><path class="b" d="M125,24L139,20 M118,49L126,57"/><use href="#fcore" x="2" y="1"/><text class="t" x="150" y="20">OH</text><text class="t" x="136" y="60">OH</text><text class="id" x="7" y="85">C00117</text></g>

<g id="C00147" class="s" transform="translate(1392,2817)"><rect class="box" width="91" height="116"/><path class="b" d="M55,32L73,43L73,62L55,75L40,62L40,42Z M40,42L20,39L12,55L20,68L40,62 M55,32L60,24 M44,45V59"/><text class="t" x="68" y="18">NH<tspan class="sb">2</tspan></text><text class="t" x="20" y="39">N</text><text class="t" x="73" y="43">N</text><text class="t" x="55" y="75">N</text><text class="t" x="20" y="68">N</text><text class="t" x="20" y="81">H</text><text class="id" x="7" y="106">C00147</text></g>

<g id="C00119" class="s" transform="translate(1507,2820)"><rect class="box" width="250" height="111"/><path class="b" d="M67,48L75,42H88 M88,42L109,34L128,44L122,66L96,66Z M96,66L90,72 M122,66L130,72 M128,44L141,38"/><text class="t" x="18" y="52">HO</text><text class="t" x="63" y="52">O</text><text class="t" x="109" y="34">O</text><text class="t" x="89" y="78">HO</text><text class="t" x="138" y="78">OH</text><text class="t" x="147" y="36">O</text><text class="t" x="185" y="36">O</text><text class="t" x="231" y="36">OH</text><use href="#pu" x="44" y="52"/><use href="#pdh" x="166" y="36"/><use href="#pdh" x="206" y="36"/><path class="b" d="M29,52H38M50,52H56M153,36H160M172,36H178M191,36H200M212,36H219"/><text class="id" x="9" y="100">C00119</text></g>

<g id="C00001_6" class="s" transform="translate(1781,2843)"><rect class="box" width="72" height="64"/><use href="#h2o"/><text class="id" x="10" y="55">C00001</text></g>

<g id="C00001_7" class="s" transform="translate(1401,3102)"><rect class="box" width="71" height="63"/><use href="#h2o"/><text class="id" x="10" y="54">C00001</text></g>

<g id="C00020" class="s" transform="translate(1500,3077)"><rect class="box" width="245" height="113"/><text class="t" x="18" y="47">HO</text><text class="t" x="65" y="47">O</text><use href="#ph" x="42" y="47"/><use href="#nuc" x="65" y="47"/><path class="b" d="M29,47H36M48,47H59"/><text class="id" x="9" y="102">C00020</text></g>

<g id="C00013" class="s" transform="translate(1770,3088)"><rect class="box" width="122" height="92"/><text class="t" x="18" y="37">HO</text><text class="t" x="59" y="37">O</text><text class="t" x="101" y="37">OH</text><use href="#pu" x="41" y="37"/><use href="#pu" x="79" y="37"/><path class="b" d="M29,37H35M47,37H53M65,37H73M85,37H90"/><text class="id" x="9" y="81">C00013</text></g>

<g id="empty_1"><rect class="box" x="1917" y="3109" width="71" height="48"/></g>
<g id="empty_2"><rect class="box" x="1643" y="3376" width="72" height="47"/></g>

<g id="C02188" class="s" transform="translate(1739,3336)"><rect class="box" width="184" height="127"/><path class="b" d="M48,22V32 M48,32L34,40 M46,29L32,37 M48,32L62,40 M68,50L66,61 M66,61L50,72 M48,72L36,67 M46,74V86 M50,74V86 M66,61L84,74L102,64L120,74L138,64L146,70"/><text class="t" x="48" y="16">R</text><text class="t" x="30" y="42">O</text><text class="t" x="70" y="44">NH</text><text class="t" x="13" y="74">R</text><text class="t" x="30" y="65">N</text><text class="t" x="30" y="76">H</text><text class="t" x="48" y="93">O</text><text class="t" x="158" y="75">NH<tspan class="sb">2</tspan></text><text class="id" x="9" y="117">C02188</text></g>

<g id="C00002_2" class="s" transform="translate(1948,3344)"><rect class="box" width="327" height="111"/><text class="t" x="20" y="47">HO</text><text class="t" x="63" y="47">O</text><text class="t" x="103" y="47">O</text><text class="t" x="145" y="47">O</text><use href="#ph" x="45" y="47"/><use href="#ph" x="85" y="47"/><use href="#ph" x="125" y="47"/><use href="#nuc" x="145" y="47"/><path class="b" d="M32,47H39M51,47H57M70,47H79M91,47H97M110,47H119M131,47H139"/><text class="id" x="9" y="102">C00002</text></g>
</g>
</svg>
